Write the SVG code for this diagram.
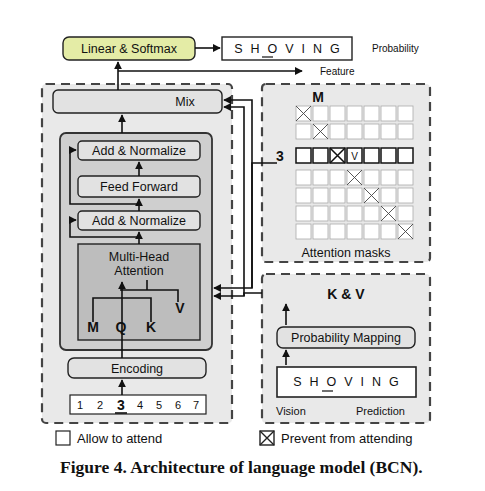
<svg xmlns="http://www.w3.org/2000/svg" width="485" height="491" viewBox="0 0 485 491">
<style>
text{font-family:"Liberation Sans",Arial,sans-serif;fill:#111}
.dash{fill:#e9e9e9;stroke:#444;stroke-width:2.2;stroke-dasharray:9 6}
.box{fill:#e2e2e2;stroke:#222;stroke-width:1.4}
.ln{fill:none;stroke:#111;stroke-width:1.6}
.cell{fill:#fff;stroke:#aaa;stroke-width:0.8}
.cellb{fill:#fff;stroke:#111;stroke-width:1.5}
.t{font-size:12.5px}
.l{font-size:14px;font-weight:bold}
</style>
<defs>
<marker id="ah" viewBox="0 0 10 10" refX="9" refY="5" markerWidth="5" markerHeight="5" orient="auto"><path d="M0,0L10,5L0,10z" fill="#111"/></marker>
</defs>
<rect width="485" height="491" fill="#fff"/>

<g id="lm-region"><rect class="dash" x="42" y="84" width="190" height="339" rx="4"/></g>
<g id="mask-region"><rect class="dash" x="262" y="84" width="168" height="178" rx="4"/></g>
<g id="kv-region"><rect class="dash" x="262" y="274" width="168" height="149" rx="4"/></g>

<g id="linear-softmax"><rect x="63" y="37" width="132" height="23" rx="6" fill="#e4eca6" stroke="#222" stroke-width="1.4"/><text x="129" y="53" class="t" text-anchor="middle">Linear &amp; Softmax</text></g>
<g id="output"><rect x="222" y="37" width="130" height="23" fill="#fff" stroke="#222" stroke-width="1.4"/>
<text x="287" y="53" class="t" text-anchor="middle" letter-spacing="8" dx="4">SHOVING</text>
<line x1="262" y1="57" x2="273" y2="57" stroke="#111" stroke-width="1.2"/>
<text x="372" y="52" font-size="10">Probability</text></g>
<g id="feature-label"><text x="320" y="75" font-size="10">Feature</text></g>

<g id="mix"><rect class="box" x="53" y="90" width="169" height="23" rx="5" fill="#dcdcdc"/><text x="185" y="106" class="t" text-anchor="middle">Mix</text></g>

<g id="decoder-block"><rect x="60" y="133" width="152" height="217" rx="6" fill="#cfcfcf" stroke="#333" stroke-width="1.8"/></g>
<g id="add-norm-2"><rect class="box" x="78" y="141" width="122" height="19" rx="4"/><text x="139" y="155" class="t" text-anchor="middle">Add &amp; Normalize</text></g>
<g id="feed-forward"><rect class="box" x="78" y="176" width="122" height="21" rx="4"/><text x="139" y="191" class="t" text-anchor="middle">Feed Forward</text></g>
<g id="add-norm-1"><rect class="box" x="78" y="211" width="122" height="19" rx="4"/><text x="139" y="225" class="t" text-anchor="middle">Add &amp; Normalize</text></g>
<g id="mha"><rect x="78" y="244" width="122" height="96" fill="#bdbdbd" stroke="#222" stroke-width="1.4"/>
<text x="139" y="261" class="t" text-anchor="middle">Multi-Head</text><text x="139" y="275" class="t" text-anchor="middle">Attention</text>
<text x="93" y="332" class="l" text-anchor="middle">M</text><text x="121" y="332" class="l" text-anchor="middle">Q</text><text x="151" y="332" class="l" text-anchor="middle">K</text><text x="180" y="313" class="l" text-anchor="middle">V</text></g>

<g id="encoding"><rect class="box" x="68" y="358" width="138" height="20" rx="6" fill="#e6e6e6"/><text x="137" y="373" class="t" text-anchor="middle">Encoding</text></g>
<g id="input"><rect x="70" y="395" width="136" height="19" fill="#fff" stroke="#222" stroke-width="1.2"/>
<text x="80" y="409" font-size="11" text-anchor="middle">1</text><text x="100" y="409" font-size="11" text-anchor="middle">2</text><text x="121" y="410" font-size="14" font-weight="bold" text-anchor="middle">3</text><text x="140" y="409" font-size="11" text-anchor="middle">4</text><text x="159" y="409" font-size="11" text-anchor="middle">5</text><text x="178" y="409" font-size="11" text-anchor="middle">6</text><text x="196" y="409" font-size="11" text-anchor="middle">7</text>
<line x1="115" y1="413" x2="127" y2="413" stroke="#111" stroke-width="1.6"/></g>

<g id="attention-masks">
<text x="318" y="102" class="l" text-anchor="middle">M</text>
<g>
<rect class="cell" x="296" y="106" width="15" height="15"/><rect class="cell" x="313" y="106" width="15" height="15"/><rect class="cell" x="330" y="106" width="15" height="15"/><rect class="cell" x="347" y="106" width="15" height="15"/><rect class="cell" x="364" y="106" width="15" height="15"/><rect class="cell" x="381" y="106" width="15" height="15"/><rect class="cell" x="398" y="106" width="15" height="15"/>
<rect class="cell" x="296" y="124" width="15" height="15"/><rect class="cell" x="313" y="124" width="15" height="15"/><rect class="cell" x="330" y="124" width="15" height="15"/><rect class="cell" x="347" y="124" width="15" height="15"/><rect class="cell" x="364" y="124" width="15" height="15"/><rect class="cell" x="381" y="124" width="15" height="15"/><rect class="cell" x="398" y="124" width="15" height="15"/>
<rect class="cellb" x="296" y="148" width="15" height="15"/><rect class="cellb" x="313" y="148" width="15" height="15"/><rect class="cellb" x="330" y="148" width="15" height="15"/><rect class="cellb" x="347" y="148" width="15" height="15"/><rect class="cellb" x="364" y="148" width="15" height="15"/><rect class="cellb" x="381" y="148" width="15" height="15"/><rect class="cellb" x="398" y="148" width="15" height="15"/>
<rect class="cell" x="296" y="170" width="15" height="15"/><rect class="cell" x="313" y="170" width="15" height="15"/><rect class="cell" x="330" y="170" width="15" height="15"/><rect class="cell" x="347" y="170" width="15" height="15"/><rect class="cell" x="364" y="170" width="15" height="15"/><rect class="cell" x="381" y="170" width="15" height="15"/><rect class="cell" x="398" y="170" width="15" height="15"/>
<rect class="cell" x="296" y="188" width="15" height="15"/><rect class="cell" x="313" y="188" width="15" height="15"/><rect class="cell" x="330" y="188" width="15" height="15"/><rect class="cell" x="347" y="188" width="15" height="15"/><rect class="cell" x="364" y="188" width="15" height="15"/><rect class="cell" x="381" y="188" width="15" height="15"/><rect class="cell" x="398" y="188" width="15" height="15"/>
<rect class="cell" x="296" y="206" width="15" height="15"/><rect class="cell" x="313" y="206" width="15" height="15"/><rect class="cell" x="330" y="206" width="15" height="15"/><rect class="cell" x="347" y="206" width="15" height="15"/><rect class="cell" x="364" y="206" width="15" height="15"/><rect class="cell" x="381" y="206" width="15" height="15"/><rect class="cell" x="398" y="206" width="15" height="15"/>
<rect class="cell" x="296" y="224" width="15" height="15"/><rect class="cell" x="313" y="224" width="15" height="15"/><rect class="cell" x="330" y="224" width="15" height="15"/><rect class="cell" x="347" y="224" width="15" height="15"/><rect class="cell" x="364" y="224" width="15" height="15"/><rect class="cell" x="381" y="224" width="15" height="15"/><rect class="cell" x="398" y="224" width="15" height="15"/>
</g>
<g stroke="#444" stroke-width="0.9">
<path d="M296,106l15,15M311,106l-15,15"/><path d="M313,124l15,15M328,124l-15,15"/><path d="M347,170l15,15M362,170l-15,15"/><path d="M364,188l15,15M379,188l-15,15"/><path d="M381,206l15,15M396,206l-15,15"/><path d="M398,224l15,15M413,224l-15,15"/>
</g>
<path d="M330,148l15,15M345,148l-15,15" stroke="#111" stroke-width="1.5"/>
<text x="354.5" y="160" font-size="10" text-anchor="middle">V</text>
<text x="280" y="161" class="l" text-anchor="middle">3</text>
<text x="346" y="257" class="t" text-anchor="middle">Attention masks</text>
</g>

<g id="kv">
<text x="346" y="299" class="l" text-anchor="middle">K &amp; V</text>
<rect class="box" x="277" y="327" width="138" height="21" rx="6" fill="#e6e6e6"/><text x="346" y="342" class="t" text-anchor="middle">Probability Mapping</text>
<rect x="277" y="367" width="139" height="30" fill="#fff" stroke="#222" stroke-width="1.6"/>
<text x="346" y="386" class="t" text-anchor="middle" letter-spacing="8" dx="4">SHOVING</text>
<line x1="322" y1="391" x2="333" y2="391" stroke="#111" stroke-width="1.2"/>
<text x="276" y="415" font-size="11">Vision</text><text x="356" y="415" font-size="11">Prediction</text>
</g>

<g id="legend">
<rect x="56" y="431" width="14" height="14" fill="#fff" stroke="#222" stroke-width="1.2"/><text x="77" y="443" font-size="13">Allow to attend</text>
<rect x="260" y="431" width="14" height="14" fill="#fff" stroke="#222" stroke-width="1.4"/><path d="M260,431l14,14M274,431l-14,14" stroke="#222" stroke-width="1.4"/><text x="281" y="443" font-size="13">Prevent from attending</text>
</g>
<g id="caption"><text x="60" y="473" font-size="17.5" font-weight="bold" style="font-family:'Liberation Serif',serif">Figure 4. Architecture of language model (BCN).</text></g>

<g id="connectors">
<path class="ln" d="M195,48H220" marker-end="url(#ah)"/>
<path class="ln" d="M118,90V62" marker-end="url(#ah)"/>
<path class="ln" d="M118,71H302" marker-end="url(#ah)"/>
<path class="ln" d="M122,133V115" marker-end="url(#ah)"/>
<path class="ln" d="M122,395V380" marker-end="url(#ah)"/>
<path class="ln" d="M122,358V290"/>
<path class="ln" d="M122,290V282" marker-end="url(#ah)"/>
<path class="ln" d="M93,322V298H151V322"/>
<path class="ln" d="M147,280V290"/>
<path class="ln" d="M120,290H178V302"/>
<path class="ln" d="M139,244V232" marker-end="url(#ah)"/>
<path class="ln" d="M139,211V199" marker-end="url(#ah)"/>
<path class="ln" d="M139,176V162" marker-end="url(#ah)"/>
<path class="ln" d="M139,237H70V220H76" marker-end="url(#ah)"/>
<path class="ln" d="M139,204H70V150H76" marker-end="url(#ah)"/>
<path class="ln" d="M277,163H252V288H214" marker-end="url(#ah)"/>
<path class="ln" d="M262,293H244V296H214" marker-end="url(#ah)"/>
<path class="ln" d="M244,296V107H224" marker-end="url(#ah)"/>
<path class="ln" d="M252,288V100H224" marker-end="url(#ah)"/>
<path class="ln" d="M286,325V304" marker-end="url(#ah)"/>
<path class="ln" d="M286,365V350" marker-end="url(#ah)"/>
</g>
</svg>
